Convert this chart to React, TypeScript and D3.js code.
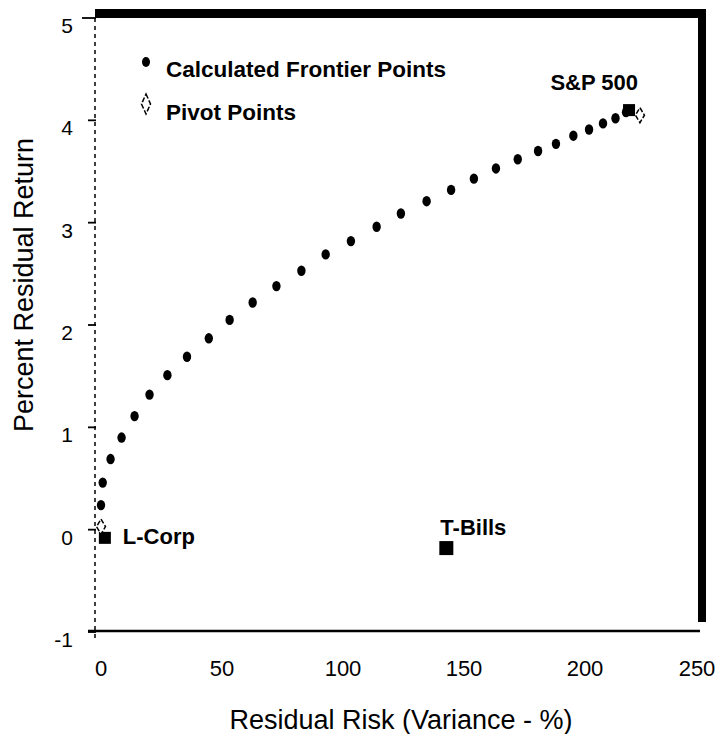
import React from "react";
import * as d3 from "d3";

const frontierRisk = [0, 0.71, 3.95, 8.5, 13.87, 20.05, 27.44, 35.53, 44.55, 53.15, 62.67, 72.49, 82.81, 92.84, 103.27, 113.9, 123.92, 134.55, 144.67, 154.09, 163.2, 172.21, 180.61, 188.0, 195.19, 201.67, 207.44, 212.6, 216.96];
const frontierReturn = [0.24, 0.46, 0.69, 0.90, 1.11, 1.32, 1.51, 1.69, 1.87, 2.05, 2.22, 2.38, 2.53, 2.69, 2.82, 2.96, 3.09, 3.21, 3.32, 3.43, 3.53, 3.62, 3.70, 3.77, 3.85, 3.91, 3.97, 4.02, 4.08];

const pivotRisk = [0, 222.7];
const pivotReturn = [0.03, 4.05];

const assetNames = ["L-Corp", "T-Bills", "S&P 500"];
const assetRisk = [1.6, 142.7, 218.2];
const assetReturn = [-0.08, -0.18, 4.1];

const xTicks = [0, 50, 100, 150, 200, 250];
const yTicks = [-1, 0, 1, 2, 3, 4, 5];

const legendLabels = ["Calculated Frontier Points", "Pivot Points"];

const W = 717;
const H = 734;

export default function App() {
  const x = d3.scaleLinear().domain([0, 250]).range([101, 706]);
  const y = d3.scaleLinear().domain([-1, 5]).range([632, 18]);
  const font = "'Liberation Sans', Arial, Helvetica, sans-serif";

  const diamond = (cx: number, cy: number, w: number, h: number) =>
    `M${cx},${cy - h / 2} L${cx + w / 2},${cy} L${cx},${cy + h / 2} L${cx - w / 2},${cy} Z`;

  const labelOffsets: Record<string, { dx: number; dy: number; anchor: string }> = {
    "L-Corp": { dx: 18, dy: 6, anchor: "start" },
    "T-Bills": { dx: -6, dy: -13, anchor: "start" },
    "S&P 500": { dx: 9, dy: -20, anchor: "end" },
  };
  const squareSize = [12, 14, 12];

  return (
    <div style={{ position: "fixed", left: 0, top: 0 }}>
      <svg width={W} height={H} style={{ display: "block", background: "#fff" }}>
        {/* frame */}
        <rect x={95} y={9} width={611} height={9} fill="#000" />
        <rect x={698} y={9} width={8} height={613} fill="#000" />
        <line x1={88} x2={700} y1={631} y2={631} stroke="#000" strokeWidth={2.5} />
        <line x1={95} x2={95} y1={18} y2={642} stroke="#000" strokeWidth={1.5} strokeDasharray="4,4" />
        {/* y ticks */}
        {yTicks.map((t) => (
          <g key={"yt" + t}>
            <line x1={t === 5 ? 82 : 88} x2={96} y1={y(t)} y2={y(t)} stroke="#000" strokeWidth={1.8} />
            <text x={73} y={y(t) + 15} textAnchor="end" fontFamily={font} fontSize={21} fill="#000">
              {t === -1 ? "-1" : String(t)}
            </text>
          </g>
        ))}
        {/* x tick labels */}
        {xTicks.map((t) => (
          <text key={"xt" + t} x={Math.min(x(t), 697)} y={676} textAnchor="middle" fontFamily={font} fontSize={22} fill="#000">
            {t}
          </text>
        ))}
        {/* axis titles */}
        <text x={401} y={729} textAnchor="middle" fontFamily={font} fontSize={27} fill="#000">
          Residual Risk (Variance - %)
        </text>
        <text
          transform={`translate(33,285) rotate(-90)`}
          textAnchor="middle"
          fontFamily={font}
          fontSize={27}
          fill="#000"
        >
          Percent Residual Return
        </text>
        {/* legend */}
        <ellipse cx={146} cy={62} rx={4} ry={5} fill="#000" />
        <text x={166} y={77} fontFamily={font} fontWeight="bold" fontSize={22.5} fill="#000">
          {legendLabels[0]}
        </text>
        <path d={diamond(146, 104, 9, 20)} fill="#fff" stroke="#000" strokeWidth={1.5} strokeDasharray="5,2" />
        <text x={166} y={120} fontFamily={font} fontWeight="bold" fontSize={22.5} fill="#000">
          {legendLabels[1]}
        </text>
        {/* frontier points */}
        {frontierRisk.map((r, i) => (
          <ellipse key={"f" + i} cx={x(r)} cy={y(frontierReturn[i])} rx={4.2} ry={5.2} fill="#000" />
        ))}
        {/* assets */}
        {assetNames.map((n, i) => {
          const cx = x(assetRisk[i]);
          const cy = y(assetReturn[i]);
          const s = squareSize[i];
          const o = labelOffsets[n];
          return (
            <g key={n}>
              <rect x={cx - s / 2} y={cy - s / 2} width={s} height={s} fill="#000" />
              <text
                x={cx + o.dx}
                y={cy + o.dy}
                textAnchor={o.anchor}
                fontFamily={font}
                fontWeight="bold"
                fontSize={22}
                fill="#000"
              >
                {n}
              </text>
            </g>
          );
        })}
        {/* pivot points */}
        {pivotRisk.map((r, i) => (
          <path
            key={"p" + i}
            d={diamond(x(r), y(pivotReturn[i]), 9, 15)}
            fill="#fff"
            stroke="#000"
            strokeWidth={1.5}
            strokeDasharray="5,2"
          />
        ))}
      </svg>
    </div>
  );
}
